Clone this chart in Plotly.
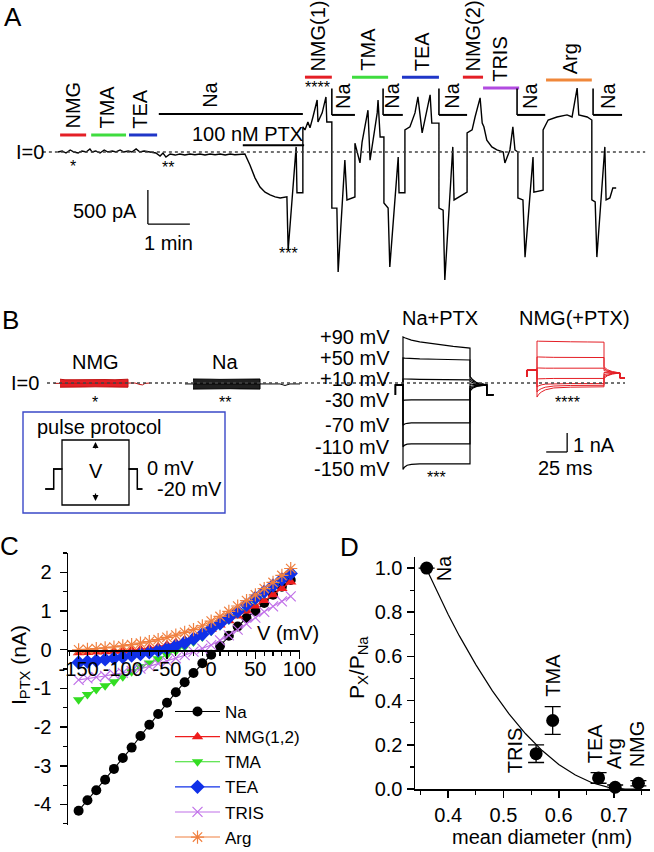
import plotly.graph_objects as go

W, H = 654, 852          # browser window
OFF = 0
FW, FH = W - OFF, H - OFF
FONT = "Liberation Sans, Arial, Helvetica, sans-serif"
FS = 20
RED = "#e41f26"; GREEN = "#3fdc3f"; BLUE = "#1f36c8"; PURPLE = "#b14be0"; ORANGE = "#f0873a"

# ---------------- Panel A : whole-cell current vs time (min, pA) ----------------
a_time_min = [0.00, 0.10, 0.19, 0.29, 0.38, 0.48, 0.57, 0.67, 0.76, 0.81, 0.90, 1.00, 1.10, 1.19, 1.29,
              1.38, 1.48, 1.57, 1.67, 1.76, 1.86, 1.95, 2.05, 2.19, 2.33, 2.43, 2.50, 2.57, 2.67, 2.79,
              2.90, 3.02, 3.14, 3.26, 3.38, 3.50, 3.62, 3.74, 3.86, 3.98, 4.10, 4.21, 4.33, 4.45,
              4.57, 4.69, 4.81, 4.93, 5.05, 5.17, 5.29, 5.45, 5.48, 5.67, 5.69, 5.83, 5.83,
              5.88, 5.95, 6.00, 6.07, 6.17, 6.19, 6.29, 6.38, 6.40, 6.52,
              6.52, 6.64, 6.67, 6.83, 6.88, 7.07, 7.07,
              7.19, 7.24, 7.38, 7.43, 7.60, 7.62, 7.67, 7.76,
              7.76, 7.86, 7.90, 8.10, 8.12, 8.26, 8.26,
              8.38, 8.50, 8.57, 8.67, 8.74, 8.86, 8.90, 9.07,
              9.07, 9.17, 9.21, 9.40, 9.43, 9.74, 9.74,
              9.86, 9.93, 10.05, 10.10, 10.14, 10.21, 10.33, 10.45, 10.60,
              10.64, 10.76, 10.83, 10.88, 10.95,
              10.95, 11.07, 11.12, 11.31, 11.33, 11.55, 11.55,
              11.67, 11.88, 12.12, 12.24, 12.36, 12.40, 12.60, 12.71,
              12.71, 12.79, 12.83, 13.02, 13.05, 13.14, 13.21, 13.29]
a_current_pA = [0, 15, -15, 30, 0, -15, 15, 0, 45, 0, 15, -15, 30, 0, 15,
                0, 30, 0, 15, 0, 45, 0, 15, 0, -15, -60, -15, -75, -30, -45,
                -30, -45, -30, -40, -30, -45, -30, -40, -30, -45, -30, -40, -30, -30,
                -190, -380, -515, -590, -630, -660, -675, -660, -1440, 75, -600, -600, 370,
                325, 440, 355, 515, 765, 440, 575, 810, 440, 440,
                -825, -825, -1765, -120, -705, -660, 130,
                -160, 145, 615, -120, 575, 765, 220, 220,
                -750, -825, -1690, -75, -600, -600, 325,
                370, 575, 810, 280, 470, 840, 425, 425,
                -825, -855, -1880, 75, -705, -590, 280,
                325, 515, 795, 425, 370, 175, 75, 30, 0,
                -160, 30, 370, 30, 0,
                -675, -705, -1545, -75, -590, -560, 325,
                470, 515, 545, 515, 940, 545, 515, 470,
                -705, -735, -1545, 75, -705, -675, -530, -530]

sol_names = ["NMG", "TMA", "TEA", "Na", "NMG(1)", "Na", "TMA", "Na", "TEA", "Na",
             "NMG(2)", "TRIS", "Na", "Arg", "Na"]
sol_start_min = [0.05, 0.79, 1.69, 2.40, 5.88, 6.52, 7.00, 7.74, 8.19, 9.07, 9.64, 10.12, 10.93, 11.62, 12.74]
sol_end_min = [0.67, 1.62, 2.36, 5.83, 6.52, 7.07, 7.86, 8.21, 9.07, 9.74, 10.12, 10.98, 11.60, 12.71, 13.43]
sol_label_min = [0.36, 1.17, 1.95, 3.62, 6.19, 6.79, 7.36, 7.95, 8.67, 9.38, 9.88, 10.52, 11.24, 12.19, 13.10]
sol_level_pA = [250, 250, 250, 560, 1100, 545, 1100, 545, 1100, 545, 1100, 940, 545, 1060, 545]
sol_color = [RED, GREEN, BLUE, "black", RED, "black", GREEN, "black", BLUE, "black", RED, PURPLE, "black", ORANGE, "black"]
sol_switch_tick = [0, 0, 0, 0, 0, 1, 0, 1, 0, 1, 0, 0, 1, 0, 1]
ptx_start_min, ptx_end_min, ptx_level_pA = 4.40, 5.86, 100

# ---------------- Panel B : current traces ----------------
b_voltages = ["+90 mV", "+50 mV", "+10 mV", "-30 mV", "-70 mV", "-110 mV", "-150 mV"]
b_pulse_t_ms = [0, 2, 5, 10, 20, 40, 60, 80]
b_na_ptx_nA = [
    [2.42, 2.38, 2.33, 2.26, 2.16, 2.03, 1.93, 1.84],
    [1.32, 1.31, 1.30, 1.29, 1.27, 1.25, 1.23, 1.21],
    [0.21, 0.21, 0.20, 0.20, 0.19, 0.18, 0.17, 0.16],
    [-0.92, -0.90, -0.89, -0.89, -0.89, -0.89, -0.89, -0.89],
    [-2.22, -2.16, -2.12, -2.10, -2.10, -2.10, -2.10, -2.10],
    [-3.36, -3.27, -3.22, -3.20, -3.20, -3.20, -3.20, -3.20],
    [-4.55, -4.42, -4.33, -4.28, -4.26, -4.26, -4.26, -4.26],
]
b_na_tail_t_ms = [80, 83, 88, 100]
b_na_tail_nA = [[0.35, 0.18, 0.02, -0.10], [0.22, 0.10, -0.02, -0.10], [0.08, 0.02, -0.05, -0.10],
                [-0.05, -0.08, -0.10, -0.10], [-0.18, -0.15, -0.12, -0.10], [-0.30, -0.22, -0.15, -0.10],
                [-0.42, -0.28, -0.18, -0.10]]
b_na_hold_nA, b_na_pre_nA = -0.63, -0.10
b_nmg_ptx_nA = [
    [2.21, 2.20, 2.20, 2.19, 2.18, 2.17, 2.16, 2.15],
    [1.37, 1.37, 1.36, 1.36, 1.35, 1.35, 1.34, 1.34],
    [0.79, 0.79, 0.78, 0.78, 0.78, 0.78, 0.78, 0.78],
    [0.21, 0.22, 0.23, 0.23, 0.24, 0.24, 0.24, 0.24],
    [-0.21, -0.15, -0.10, -0.06, -0.04, -0.03, -0.03, -0.03],
    [-0.47, -0.38, -0.30, -0.22, -0.16, -0.13, -0.12, -0.12],
    [-0.74, -0.60, -0.48, -0.36, -0.26, -0.22, -0.20, -0.20],
]
b_nmg_tail_t_ms = [80, 84, 90, 99]
b_nmg_tail_nA = [[0.85, 0.70, 0.60, 0.53], [0.75, 0.65, 0.58, 0.53], [0.65, 0.60, 0.56, 0.53],
                 [0.55, 0.54, 0.53, 0.53], [0.45, 0.48, 0.51, 0.53], [0.35, 0.42, 0.49, 0.53],
                 [0.25, 0.38, 0.47, 0.53]]
b_nmg_hold_nA, b_nmg_pre_nA, b_nmg_post_nA = 0.32, 0.68, 0.26

# slow (compressed) recordings, time in s, current in nA
slow_nmg_env_t = [2, 3, 5, 7, 9, 11, 13, 15.6, 15.6, 13, 11, 9, 7, 5, 3, 2]
slow_nmg_env_nA = [0.20, 0.17, 0.17, 0.18, 0.17, 0.18, 0.17, 0.20, -0.22, -0.20, -0.21, -0.20, -0.21, -0.20, -0.21, -0.22]
slow_nmg_line_t = [0.8, 2, 15.6, 17, 18, 18.5, 19, 20]
slow_nmg_line_nA = [-0.02, -0.02, 0.0, 0.0, -0.08, -0.10, -0.02, 0.0]
slow_na_env_t = [28.6, 30, 32, 34, 36, 38, 40, 42, 42, 40, 38, 36, 34, 32, 30, 28.6]
slow_na_env_nA = [0.21, 0.19, 0.20, 0.19, 0.20, 0.19, 0.20, 0.21, -0.32, -0.30, -0.31, -0.30, -0.31, -0.30, -0.31, -0.32]
slow_na_line_t = [27, 28.6, 42, 45, 46, 47, 48, 50]
slow_na_line_nA = [-0.05, -0.05, -0.05, -0.05, -0.05, -0.13, -0.05, -0.05]

# pulse protocol (ms, mV)
proto_t = [-20, -10, -10, 0, 0, 80, 80, 90, 90, 96]
proto_top_mV = [-20, -20, 0, 0, 29, 29, 0, 0, -20, -20]
proto_bot_mV = [-20, -20, 0, 0, -36, -36, 0, 0, -20, -20]

# ---------------- Panel C : I-V ----------------
c_v = [-150, -140, -130, -120, -110, -100, -90, -80, -70, -60, -50, -40, -30, -20, -10,
       0, 10, 20, 30, 40, 50, 60, 70, 80, 90]
c_na = [-4.16, -3.89, -3.63, -3.36, -3.08, -2.80, -2.53, -2.23, -1.94, -1.66, -1.37, -1.10, -0.84, -0.60, -0.35,
        -0.13, 0.10, 0.36, 0.60, 0.82, 1.00, 1.21, 1.42, 1.63, 1.80]
c_nmg = [-0.08, -0.07, -0.06, -0.05, -0.04, -0.03, -0.01, 0.01, 0.04, 0.08, 0.13, 0.19, 0.26, 0.34, 0.43,
         0.53, 0.64, 0.75, 0.87, 1.00, 1.13, 1.27, 1.42, 1.58, 1.75]
c_tma = [-1.29, -1.16, -1.03, -0.93, -0.83, -0.70, -0.57, -0.44, -0.34, -0.23, -0.13, -0.03, 0.08, 0.20, 0.33,
         0.48, 0.62, 0.77, 0.93, 1.10, 1.27, 1.44, 1.61, 1.78, 1.95]
c_tea = [-0.33, -0.31, -0.28, -0.25, -0.22, -0.19, -0.15, -0.11, -0.07, -0.02, 0.03, 0.10, 0.18, 0.28, 0.40,
         0.54, 0.68, 0.83, 0.99, 1.16, 1.34, 1.50, 1.66, 1.82, 1.97]
c_tris = [-0.78, -0.74, -0.71, -0.68, -0.63, -0.60, -0.55, -0.49, -0.43, -0.36, -0.30, -0.22, -0.14, -0.05, 0.03,
          0.12, 0.24, 0.37, 0.52, 0.67, 0.83, 0.98, 1.12, 1.25, 1.38]
c_arg = [0.00, 0.01, 0.03, 0.05, 0.07, 0.10, 0.13, 0.17, 0.21, 0.26, 0.32, 0.38, 0.45, 0.52, 0.62,
         0.74, 0.86, 0.99, 1.13, 1.27, 1.42, 1.58, 1.74, 1.92, 2.10]
c_xtick_vals = [-150, -100, -50, 0, 50, 100]
c_xtick_text = ["-150", "-100", "-50", "0", "50", "100"]
c_ytick_vals = [-4, -3, -2, -1, 0, 1, 2]
c_ytick_text = ["-4", "-3", "-2", "-1", "0", "1", "2"]

# ---------------- Panel D : permeability vs diameter ----------------
d_names = ["Na", "TRIS", "TMA", "TEA", "Arg", "NMG"]
d_diam_nm = [0.361, 0.559, 0.589, 0.672, 0.702, 0.744]
d_perm = [1.0, 0.16, 0.31, 0.05, 0.008, 0.026]
d_err = [0.0, 0.04, 0.063, 0.024, 0.01, 0.012]
d_fit_x = [0.36, 0.38, 0.40, 0.42, 0.45, 0.48, 0.51, 0.54, 0.57, 0.60, 0.63, 0.66, 0.69, 0.72, 0.745]
d_fit_y = [1.0, 0.892, 0.790, 0.694, 0.563, 0.444, 0.340, 0.250, 0.174, 0.111, 0.063, 0.028, 0.007, 0.0, 0.0]
d_label_x = [0.393, 0.521, 0.590, 0.666, 0.700, 0.743]
d_label_y = [1.0, 0.176, 0.514, 0.208, 0.158, 0.206]

# ============================================================
fig = go.Figure()
shapes, annotations = [], []


def pp(xp, yp):
    """window pixel -> paper coordinates"""
    return (xp - OFF) / FW, 1 - (yp - OFF) / FH


def xdom(p0, p1):
    return [(p0 - OFF) / FW, (p1 - OFF) / FW]


def ydom(top, bottom):
    return [1 - (bottom - OFF) / FH, 1 - (top - OFF) / FH]


def xrange_full(origin_px, px_per_unit):
    return [(OFF - origin_px) / px_per_unit, (W - origin_px) / px_per_unit]


def yrange(zero_py, px_per_unit, top, bottom):
    return [(zero_py - bottom) / px_per_unit, (zero_py - top) / px_per_unit]


def add_line(x0, y0, x1, y1, xref, yref, color="black", width=1.4, dash=None):
    ln = dict(color=color, width=width)
    if dash:
        ln["dash"] = dash
    shapes.append(dict(type="line", x0=x0, y0=y0, x1=x1, y1=y1, xref=xref, yref=yref, line=ln))


def add_text(text, x, y, xref="paper", yref="paper", size=FS, angle=0, xanchor="center",
             yanchor="middle", color="black"):
    annotations.append(dict(text=text, x=x, y=y, xref=xref, yref=yref, showarrow=False, textangle=angle,
                            xanchor=xanchor, yanchor=yanchor,
                            font=dict(size=size, color=color, family=FONT)))


# ---- Panel A ----
fig.add_trace(go.Scatter(x=a_time_min, y=a_current_pA, mode="lines", line=dict(color="black", width=1.4),
                         xaxis="x", yaxis="y", showlegend=False, hoverinfo="skip"))
add_line(-0.36, 0, 13.98, 0, "x", "y", color="#444", width=1.3, dash="dot")
for nm, s, e, lx, lv, col, tk in zip(sol_names, sol_start_min, sol_end_min, sol_label_min,
                                     sol_level_pA, sol_color, sol_switch_tick):
    add_line(s, lv, e, lv, "x", "y", color=col, width=3 if col != "black" else 2)
    add_text(nm, lx, lv + 60, "x", "y", angle=-90, yanchor="bottom")
    if tk:
        add_line(s, lv, s, lv + 390, "x", "y", width=1.6)
add_line(ptx_start_min, ptx_level_pA, ptx_end_min, ptx_level_pA, "x", "y", width=2)
add_text("100 nM PTX", 4.5, 265, "x", "y")
add_text("I=0", -0.667, 0, "x", "y")
add_text("*", 0.36, -210, "x", "y", size=16)
add_text("**", 2.62, -225, "x", "y", size=16)
add_text("***", 5.48, -1490, "x", "y", size=16)
add_text("****", 6.19, 955, "x", "y", size=16)
SB_T0, SB_I0 = 2.14, -1060
add_line(SB_T0, SB_I0, SB_T0, SB_I0 + 500, "x", "y", width=1.3)
add_line(SB_T0, SB_I0, SB_T0 + 1, SB_I0, "x", "y", width=1.3)
add_text("500 pA", SB_T0 - 0.2, SB_I0 + 190, "x", "y", xanchor="right")
add_text("1 min", SB_T0 + 0.5, SB_I0 - 280, "x", "y")

# ---- Panel B ----
for i, v in enumerate(b_voltages):
    xs = [-9, -9, 0] + b_pulse_t_ms + b_na_tail_t_ms + [100, 108]
    ys = [b_na_hold_nA, b_na_pre_nA, b_na_pre_nA] + b_na_ptx_nA[i] + b_na_tail_nA[i] + [b_na_hold_nA, b_na_hold_nA]
    fig.add_trace(go.Scatter(x=xs, y=ys, mode="lines", line=dict(color="black", width=1.2),
                             xaxis="x2", yaxis="y2", showlegend=False, hoverinfo="skip"))
    xs = [-12, -12, 0] + b_pulse_t_ms + b_nmg_tail_t_ms + [99, 105]
    ys = [b_nmg_hold_nA, b_nmg_pre_nA, b_nmg_pre_nA] + b_nmg_ptx_nA[i] + b_nmg_tail_nA[i] + [b_nmg_post_nA, b_nmg_post_nA]
    fig.add_trace(go.Scatter(x=xs, y=ys, mode="lines", line=dict(color=RED, width=1.0),
                             xaxis="x3", yaxis="y2", showlegend=False, hoverinfo="skip"))
    add_text(v, -13, b_na_ptx_nA[i][0], "x2", "y2", xanchor="right")

fig.add_trace(go.Scatter(x=slow_nmg_env_t, y=slow_nmg_env_nA, mode="lines", fill="toself", fillcolor=RED,
                         line=dict(color="#c01010", width=1), xaxis="x4", yaxis="y2",
                         showlegend=False, hoverinfo="skip"))
fig.add_trace(go.Scatter(x=slow_nmg_line_t, y=slow_nmg_line_nA, mode="lines", line=dict(color="#c01010", width=1),
                         xaxis="x4", yaxis="y2", showlegend=False, hoverinfo="skip"))
fig.add_trace(go.Scatter(x=slow_na_env_t, y=slow_na_env_nA, mode="lines", fill="toself", fillcolor="#202020",
                         line=dict(color="black", width=1), xaxis="x4", yaxis="y2",
                         showlegend=False, hoverinfo="skip"))
fig.add_trace(go.Scatter(x=slow_na_line_t, y=slow_na_line_nA, mode="lines", line=dict(color="black", width=1),
                         xaxis="x4", yaxis="y2", showlegend=False, hoverinfo="skip"))
bx0, _ = pp(47, 0)
bx1, _ = pp(625, 0)
add_line(bx0, 0, bx1, 0, "paper", "y2", color="#444", width=1.3, dash="dot")
add_text("I=0", -5, 0, "x4", "y2")
add_text("NMG", 9, 1.12, "x4", "y2")
add_text("*", 9, -1.0, "x4", "y2", size=16)
add_text("Na", 35, 1.12, "x4", "y2")
add_text("**", 35, -1.0, "x4", "y2", size=16)
add_text("Na+PTX", 44, 3.42, "x2", "y2")
add_text("***", 40, -4.95, "x2", "y2", size=16)
add_text("NMG(+PTX)", 45, 3.42, "x3", "y2")
add_text("****", 37, -1.05, "x3", "y2", size=16)
SB2_T0, SB2_I0 = 11, -3.63
add_line(SB2_T0 + 25, SB2_I0, SB2_T0 + 25, SB2_I0 + 1, "x3", "y2", width=1.3)
add_line(SB2_T0, SB2_I0, SB2_T0 + 25, SB2_I0, "x3", "y2", width=1.3)
add_text("1 nA", SB2_T0 + 30, SB2_I0 + 0.35, "x3", "y2", xanchor="left")
add_text("25 ms", SB2_T0 + 22, SB2_I0 - 0.85, "x3", "y2")

# pulse protocol
fig.add_trace(go.Scatter(x=proto_t, y=proto_top_mV, mode="lines", line=dict(color="black", width=1.3),
                         xaxis="x5", yaxis="y3", showlegend=False, hoverinfo="skip"))
fig.add_trace(go.Scatter(x=proto_t, y=proto_bot_mV, mode="lines", line=dict(color="black", width=1.3),
                         xaxis="x5", yaxis="y3", showlegend=False, hoverinfo="skip"))
rx0, ry0 = pp(23, 412)
rx1, ry1 = pp(225, 513)
shapes.append(dict(type="rect", x0=rx0, y0=ry1, x1=rx1, y1=ry0, xref="paper", yref="paper",
                   line=dict(color="#3a48c8", width=1.4)))
add_text("pulse protocol", -32, 42, "x5", "y3", xanchor="left")
add_text("V", 40.5, -2, "x5", "y3")
add_text("0 mV", 99, 1, "x5", "y3", xanchor="left")
add_text("-20 mV", 111, -20, "x5", "y3", xanchor="left")
for (ya, yt) in [(8, 27), (-12, -32)]:
    annotations.append(dict(x=40, y=yt, ax=40, ay=ya, xref="x5", yref="y3", axref="x5", ayref="y3",
                            showarrow=True, arrowhead=2, arrowsize=1, arrowwidth=1.2, arrowcolor="black", text=" "))

# ---- Panel C ----
c_series = [("Na", c_na, "black", "circle", 10),
            ("NMG(1,2)", c_nmg, "#ee1c1c", "triangle-up", 10),
            ("TMA", c_tma, "#33dd22", "triangle-down", 10),
            ("TEA", c_tea, "#1030e8", "diamond", 11),
            ("TRIS", c_tris, "#c070e8", "x-thin", 10),
            ("Arg", c_arg, "#f08040", "asterisk", 11)]
for nm, ys, col, sym, sz in c_series:
    mk = dict(color=col, symbol=sym, size=sz, line=dict(color=col, width=1.2 if "thin" in sym or sym == "asterisk" else 0))
    fig.add_trace(go.Scatter(x=c_v, y=ys, mode="lines+markers", name=nm, line=dict(color=col, width=1.1),
                             marker=mk, xaxis="x6", yaxis="y4", cliponaxis=False, hoverinfo="skip"))
add_text("V (mV)", 87, 0.44, "x6", "y4")
add_text("I<sub>PTX</sub> (nA)", *pp(20, 665), angle=-90, size=21)

# ---- Panel D ----
fig.add_trace(go.Scatter(x=d_fit_x, y=d_fit_y, mode="lines", line=dict(color="black", width=1.2),
                         xaxis="x7", yaxis="y5", showlegend=False, hoverinfo="skip", cliponaxis=False))
fig.add_trace(go.Scatter(x=d_diam_nm, y=d_perm, mode="markers",
                         marker=dict(color="black", size=13, symbol="circle"),
                         error_y=dict(type="data", array=d_err, visible=True, color="black", thickness=1.3, width=8),
                         xaxis="x7", yaxis="y5", showlegend=False, hoverinfo="skip", cliponaxis=False))
for nm, lx, ly in zip(d_names, d_label_x, d_label_y):
    add_text(nm, lx, ly, "x7", "y5", angle=-90)
add_text("P<sub>X</sub>/P<sub>Na</sub>", *pp(358, 668), angle=-90, size=21)
add_text("mean diameter (nm)", *pp(542, 837), size=20)

# panel letters
for letter, (lx, ly) in zip("ABCD", [(13, 17), (11, 320), (9, 546), (349, 547)]):
    add_text(letter, *pp(lx, ly), size=26)

hidden = dict(visible=False, showgrid=False, zeroline=False, fixedrange=True, automargin=False)
axis_common = dict(showline=True, linecolor="black", linewidth=1.5, ticks="outside", ticklen=7, tickwidth=1.5,
                   tickcolor="black", showgrid=False, zeroline=False, automargin=False,
                   tickfont=dict(size=20, family=FONT, color="black"))

B_TOP, B_BOT = 280, 520
c_xpos = pp(0, 650)[1]

fig.update_layout(
    template="none",
    width=FW, height=FH, margin=dict(l=0, r=0, t=0, b=0, pad=0, autoexpand=False),
    paper_bgcolor="white", plot_bgcolor="rgba(0,0,0,0)",
    font=dict(family=FONT, size=FS, color="black"),
    xaxis=dict(hidden, domain=[0, 1], range=xrange_full(58, 42), anchor="y"),
    yaxis=dict(hidden, domain=ydom(OFF, 300), range=yrange(152, 1 / 14.7, OFF, 300), anchor="x"),
    xaxis2=dict(hidden, domain=[0, 1], range=xrange_full(403, 0.8375), anchor="y2"),
    xaxis3=dict(hidden, domain=[0, 1], range=xrange_full(537, 0.8375), anchor="y2"),
    xaxis4=dict(hidden, domain=[0, 1], range=xrange_full(50, 5), anchor="y2"),
    yaxis2=dict(hidden, domain=ydom(B_TOP, B_BOT), range=yrange(383, 19, B_TOP, B_BOT), anchor="x2"),
    xaxis5=dict(hidden, domain=[0, 1], range=xrange_full(62, 0.8375), anchor="y3"),
    yaxis3=dict(hidden, domain=ydom(B_TOP, B_BOT), range=yrange(469, 1, B_TOP, B_BOT), anchor="x5"),
    xaxis6=dict(axis_common, domain=xdom(68, 300), range=[-162, 100.5], anchor="free", position=c_xpos,
                tickvals=c_xtick_vals, ticktext=c_xtick_text, ticklabelstandoff=-7,
                minor=dict(dtick=10, ticklen=4, tickwidth=1.2, ticks="outside", tickcolor="black")),
    yaxis4=dict(axis_common, domain=ydom(553, 825), range=[-4.53, 2.5], anchor="x6",
                tickvals=c_ytick_vals, ticktext=c_ytick_text, ticklabelstandoff=4,
                minor=dict(dtick=0.5, ticklen=4, tickwidth=1.2, ticks="outside", tickcolor="black")),
    xaxis7=dict(axis_common, domain=xdom(415, 650), range=[0.34, 0.765], anchor="y5",
                tickvals=[0.4, 0.5, 0.6, 0.7], ticktext=["0.4", "0.5", "0.6", "0.7"],
                minor=dict(dtick=0.05, ticklen=4, tickwidth=1.2, ticks="outside", tickcolor="black")),
    yaxis5=dict(axis_common, domain=ydom(557, 789), range=[0, 1.05], anchor="x7",
                tickvals=[0, 0.2, 0.4, 0.6, 0.8, 1.0], ticktext=["0.0", "0.2", "0.4", "0.6", "0.8", "1.0"],
                minor=dict(dtick=0.1, ticklen=4, tickwidth=1.2, ticks="outside", tickcolor="black")),
    legend=dict(x=pp(170, 0)[0], y=pp(0, 694)[1], xanchor="left", yanchor="top", bgcolor="rgba(0,0,0,0)",
                font=dict(size=17, family=FONT), itemwidth=45, tracegroupgap=0),
    shapes=shapes, annotations=annotations,
)
fig.write_html("out.html", config={"displayModeBar": False, "staticPlot": True},
               post_script="document.body.style.margin='0px';document.body.style.overflow='hidden';")
